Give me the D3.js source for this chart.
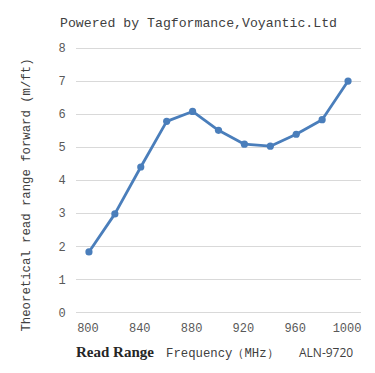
<!DOCTYPE html>
<html>
<head>
<meta charset="utf-8">
<script src="https://cdn.jsdelivr.net/npm/d3@7"></script>
<style>
  body { margin: 0; background: #fff; }
</style>
</head>
<body>
<script>
// chart data
var frequencies = [800, 820, 840, 860, 880, 900, 920, 940, 960, 980, 1000];
var readRange = [1.83, 2.98, 4.40, 5.78, 6.08, 5.51, 5.09, 5.03, 5.39, 5.83, 7.0];
var yTicks = [0, 1, 2, 3, 4, 5, 6, 7, 8];
var xTickLabels = [800, 840, 880, 920, 960, 1000];

var width = 375, height = 373;
var margin = {top: 48, right: 14, bottom: 61, left: 76};
var mono = "'Liberation Mono', 'DejaVu Sans Mono', monospace";

var svg = d3.select("body")
    .append("svg")
        .attr("width", width)
        .attr("height", height);

var x = d3.scaleBand()
    .domain(frequencies)
    .range([margin.left, width - margin.right]);

var y = d3.scaleLinear()
    .domain([0, 8])
    .range([height - margin.bottom + 0.4, margin.top]);

// gridlines
svg.append("g")
    .selectAll("line")
    .data(yTicks)
    .enter()
    .append("line")
        .attr("x1", margin.left)
        .attr("x2", width - margin.right)
        .attr("y1", function(d) { return Math.round(y(d)) + 0.5; })
        .attr("y2", function(d) { return Math.round(y(d)) + 0.5; })
        .attr("stroke", "#d9d9d9")
        .attr("stroke-width", 1);

// y tick labels
svg.append("g")
    .selectAll("text")
    .data(yTicks)
    .enter()
    .append("text")
        .attr("x", 62)
        .attr("y", function(d) { return y(d); })
        .attr("dy", "0.35em")
        .attr("text-anchor", "middle")
        .style("font-family", mono)
        .style("font-size", "12px")
        .style("fill", "#595959")
        .text(function(d) { return d; });

// x tick labels
svg.append("g")
    .selectAll("text")
    .data(xTickLabels)
    .enter()
    .append("text")
        .attr("x", function(d) { return x(d) + x.bandwidth() / 2 - 1; })
        .attr("y", 332)
        .attr("text-anchor", "middle")
        .style("font-family", mono)
        .style("font-size", "12px")
        .style("fill", "#595959")
        .text(function(d) { return d; });

var points = frequencies.map(function(f, i) { return {f: f, v: readRange[i]}; });

var line = d3.line()
    .x(function(d) { return x(d.f) + x.bandwidth() / 2; })
    .y(function(d) { return y(d.v); });

svg.append("path")
    .datum(points)
    .attr("d", line)
    .attr("fill", "none")
    .attr("stroke", "#4a7ebb")
    .attr("stroke-width", 2.8)
    .attr("stroke-linejoin", "round");

svg.append("g")
    .selectAll("circle")
    .data(points)
    .enter()
    .append("circle")
        .attr("cx", function(d) { return x(d.f) + x.bandwidth() / 2; })
        .attr("cy", function(d) { return y(d.v); })
        .attr("r", 3.6)
        .style("fill", "#4a7ebb");

// title
svg.append("text")
    .attr("x", 60)
    .attr("y", 27)
    .style("font-family", mono)
    .style("font-size", "13.2px")
    .style("fill", "#404040")
    .text("Powered by Tagformance,Voyantic.Ltd");

// y axis title
svg.append("text")
    .attr("transform", "translate(30,195) rotate(-90)")
    .attr("text-anchor", "middle")
    .style("font-family", mono)
    .style("font-size", "12.3px")
    .style("fill", "#404040")
    .text("Theoretical read range forward (m/ft)");

// bottom labels
svg.append("text")
    .attr("x", 76)
    .attr("y", 357)
    .style("font-family", "'Liberation Serif', 'DejaVu Serif', serif")
    .style("font-weight", "bold")
    .style("font-size", "15px")
    .style("fill", "#262626")
    .text("Read Range");

svg.append("text")
    .attr("x", 166)
    .attr("y", 357)
    .style("font-family", mono)
    .style("font-size", "12.3px")
    .style("fill", "#404040")
    .text("Frequency（MHz）");

svg.append("text")
    .attr("x", 299)
    .attr("y", 357)
    .style("font-family", "'Open Sans', 'Noto Sans', sans-serif")
    .style("font-size", "12px")
    .style("fill", "#404040")
    .text("ALN-9720");
</script>
</body>
</html>
